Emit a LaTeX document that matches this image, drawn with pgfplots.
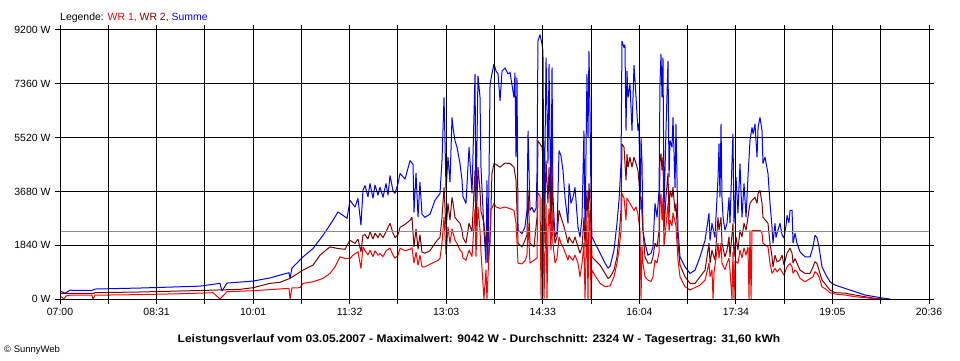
\documentclass[border=0pt]{standalone}
\usepackage{fontspec}
\setmainfont{Liberation Sans}
\usepackage{pgfplots}
\usepackage{pgfplotstable}
\pgfplotsset{compat=1.18}
\definecolor{wrone}{RGB}{255,0,0}
\definecolor{wrtwo}{RGB}{128,0,0}
\definecolor{summe}{RGB}{0,0,255}
\definecolor{avg}{RGB}{140,140,140}

% time in minutes since midnight, power in W
\pgfplotstableread{
t w
420.0 273
424.7 200
429.4 300
450.0 290
452.9 341
495.1 375
551.5 440
570.2 535
572.1 272
576.8 545
601.2 613
617.2 720
626.6 818
635.0 900
636.0 700
637.8 1056
648.2 1442
657.6 1727
667.0 2180
676.3 2691
681.0 2975
685.7 2862
689.5 2760
692.3 3373
697.0 3145
699.8 3441
702.6 2521
704.5 3714
706.4 3884
709.2 3500
711.1 3952
713.9 3441
715.8 3900
718.6 3550
720.5 3827
723.3 3475
726.1 3950
728.0 3550
729.9 4225
732.7 3700
734.6 3611
737.4 3952
739.3 4293
744.0 4100
748.7 4736
751.5 4600
752.4 2964
754.3 4300
756.2 2800
758.0 4000
759.9 2900
762.7 2794
767.4 2900
772.1 3373
774.0 3475
776.8 3600
778.7 4736
780.6 6893
782.5 3714
784.3 4849
786.2 4000
788.1 6211
789.0 5871
790.9 5417
792.8 5189
795.6 4633
797.5 4054
798.4 3500
801.2 3270
804.1 5189
806.9 3611
809.7 7688
810.6 3145
812.5 7632
814.4 6893
815.3 4500
818.1 2351
820.0 1227
820.9 4054
821.9 1227
823.8 7350
825.6 7700
827.5 8040
829.4 7800
831.3 7700
833.2 6780
835.1 7800
837.9 7900
840.7 7700
842.6 7745
846.3 6893
847.2 7745
848.2 4849
849.1 7575
850.1 2351
853.8 2238
856.6 2464
858.5 3032
859.5 5758
861.3 3032
863.2 3134
865.1 2964
867.0 3100
867.9 4293
868.8 8824
870.7 9042
872.6 8722
873.5 8483
874.5 2351
876.4 8255
878.2 4633
879.2 8030
881.0 2930
882.0 7914
882.9 3475
884.8 2124
886.7 2300
888.6 5076
890.4 4900
892.3 4395
894.2 3475
897.0 2589
898.0 3952
899.8 3270
901.7 3475
903.6 3816
906.4 2453
908.3 2112
910.2 2794
912.0 5758
913.0 2124
914.8 7688
915.8 5530
916.7 8483
917.7 6337
918.6 3475
919.5 2124
922.4 1908
927.1 1567
931.8 1227
934.6 1056
936.5 1120
940.2 1670
943.0 2589
944.9 3373
946.8 4633
947.7 8824
949.6 8596
950.5 8700
951.5 5758
952.4 7800
953.4 6893
955.2 7350
957.1 5758
959.0 8000
960.9 6893
962.7 5758
963.7 6000
964.6 3032
965.6 5500
966.5 4633
967.4 2351
969.3 1908
972.1 1499
975.0 1567
976.8 1782
978.7 3270
980.6 2794
982.5 3714
983.4 7348
984.3 8380
985.3 6893
986.2 8255
987.2 3032
989.0 5758
990.9 8143
991.9 4167
992.8 5417
994.7 5189
995.6 6211
997.5 3800
998.4 5985
1000.3 2351
1002.2 1442
1006.9 1101
1011.6 875
1016.3 988
1021.0 1442
1025.7 2010
1029.4 2930
1030.4 2000
1032.2 2589
1035.0 2100
1037.9 4167
1038.8 5315
1039.7 3475
1040.7 5985
1041.6 3475
1042.6 2794
1044.4 2351
1046.3 2589
1048.2 3475
1049.1 2589
1051.9 5644
1052.9 2589
1054.8 4167
1056.6 2930
1058.5 4633
1060.4 2794
1062.3 3952
1064.2 2794
1066.0 4167
1067.9 5417
1069.8 5871
1070.8 5644
1072.6 5985
1074.5 4849
1075.5 5871
1077.3 6211
1079.2 5758
1080.1 4633
1082.0 4849
1084.8 4293
1086.7 3270
1088.6 2453
1089.5 1908
1091.4 2589
1092.3 2100
1093.3 2248
1096.1 2589
1098.0 2200
1099.8 2078
1101.7 2500
1102.7 2862
1104.5 2600
1105.5 3032
1107.4 3032
1108.3 1908
1110.2 2248
1112.0 1908
1114.9 1612
1119.6 1442
1124.3 1442
1127.1 1782
1128.9 2180
1130.8 2100
1132.7 1782
1135.5 1101
1139.3 818
1143.0 590
1147.7 477
1157.1 364
1166.5 250
1175.9 136
1185.3 78
1194.7 20
1199.4 0
}\summetab

\pgfplotstableread{
t w
420.0 190
451.0 190
452.9 216
495.1 240
551.5 290
589.0 330
601.2 386
617.2 535
626.6 570
636.0 705
648.2 988
657.6 1158
664.1 1499
673.5 1782
681.0 1727
687.6 1700
692.3 2010
697.0 1900
699.8 2050
702.6 1612
704.5 2180
706.4 2200
709.2 2050
711.1 2300
713.9 2050
715.8 2250
718.6 2100
720.5 2238
723.3 2100
726.1 2300
729.9 2589
732.7 2250
734.6 2100
737.4 2200
739.3 2453
744.0 2550
748.7 2691
750.5 2794
752.4 1782
754.3 2400
756.2 1700
758.0 2200
759.9 1600
762.7 1567
767.4 1650
772.1 1908
774.0 2000
776.8 2112
778.7 2794
780.6 3816
782.5 2351
784.3 3270
786.2 2700
788.1 3475
789.0 3300
790.9 2794
792.8 2700
795.6 2589
797.5 2351
798.4 2100
801.2 1908
804.1 2589
806.9 2300
809.7 4395
810.6 2200
812.5 4509
814.4 3714
815.3 3000
818.1 2589
820.0 1782
820.9 2400
821.9 1227
823.8 1908
825.6 4293
827.5 4633
829.4 4600
833.2 4509
837.9 4650
842.6 4633
846.3 4509
848.2 4054
850.1 1908
853.8 1782
856.6 2000
858.5 2200
859.5 3714
861.3 1908
865.1 1782
867.9 2794
868.8 5417
870.7 5304
872.6 5190
873.5 4849
874.5 1908
876.4 4736
878.2 3270
879.2 4509
881.0 2351
882.0 4633
882.9 2794
884.8 1908
886.7 2124
888.6 3032
890.4 2794
892.3 2589
894.2 2351
897.0 1908
898.0 2124
899.8 2000
901.7 1908
903.6 2124
906.4 1782
908.3 1567
910.2 1782
912.0 2794
913.0 1782
914.8 3714
915.8 2794
916.7 3952
917.7 3270
918.6 2351
919.5 1442
922.4 1329
927.1 1158
931.8 875
934.6 705
936.5 750
940.2 988
943.0 1442
944.9 2124
946.8 3032
947.7 5304
949.6 5190
951.5 4054
952.4 4950
953.4 4509
955.2 4849
957.1 4509
959.0 4849
960.9 4633
962.7 4400
963.7 4000
964.6 3373
965.6 3500
967.4 2351
969.3 1442
972.1 1227
975.0 1227
976.8 1442
978.7 1908
980.6 1782
982.5 2351
983.4 4736
984.3 4974
985.3 4400
986.2 4849
987.2 2351
989.0 3475
990.9 4293
991.9 2794
992.8 3714
994.7 3475
995.6 3827
997.5 3000
998.4 3270
1000.3 1908
1002.2 1158
1006.9 760
1011.6 535
1016.3 535
1021.0 760
1025.7 988
1029.4 1908
1030.4 1227
1032.2 1670
1035.0 1329
1037.9 2794
1038.8 2351
1040.7 2794
1041.6 1908
1044.4 1442
1046.3 1670
1048.2 2124
1049.1 1442
1051.9 2589
1052.9 1442
1054.8 2124
1056.6 1670
1058.5 2351
1060.4 2124
1062.3 2589
1064.2 2351
1066.0 2794
1067.9 3270
1069.8 3373
1072.6 3475
1074.5 3270
1075.5 3611
1077.3 3714
1079.2 3270
1080.1 2794
1084.8 2589
1086.7 1908
1088.6 1442
1089.5 1101
1091.4 1499
1093.3 1272
1096.1 1329
1098.0 1499
1099.8 1158
1102.7 1567
1105.5 1738
1107.4 1567
1108.3 1227
1110.2 1386
1112.0 1227
1114.9 988
1119.6 875
1124.3 875
1127.1 1101
1128.9 1272
1130.8 1215
1132.7 988
1135.5 647
1139.3 477
1143.0 307
1147.7 216
1157.1 200
1166.5 136
1175.9 78
1185.3 23
1194.7 0
}\wrtwotab

\pgfplotstableread{
t w
420.0 102
423.8 0
425.6 102
429.4 130
450.0 130
451.0 0
452.9 130
495.1 150
532.7 180
563.7 216
570.2 0
576.8 250
601.2 284
635.0 364
636.0 0
637.8 380
645.4 386
648.2 535
657.6 590
667.0 705
673.5 875
678.2 1101
682.9 1442
687.6 1386
692.3 1386
695.1 1500
699.8 1612
702.6 1045
704.5 1782
706.4 1650
709.2 1500
711.1 1670
713.9 1450
715.8 1650
718.6 1500
720.5 1556
723.3 1450
726.1 1650
729.9 1738
732.7 1500
734.6 1397
737.4 1500
739.3 1738
744.0 1650
748.7 1700
750.5 1750
752.4 1227
754.3 1600
756.2 1150
758.0 1500
759.9 1100
762.7 1101
772.1 1272
774.0 1300
776.8 1386
778.7 1908
780.6 2805
782.5 1500
784.3 2464
786.2 1900
788.1 2400
790.9 2010
792.8 1900
795.6 1670
797.5 1600
798.4 1400
801.2 1329
804.1 1670
806.9 1450
809.7 3090
810.6 1450
812.5 3145
814.4 2351
815.3 1600
818.1 0
820.0 1000
820.9 0
824.7 3032
827.5 3270
829.4 3145
833.2 3100
837.9 3145
842.6 3090
846.3 3032
848.2 2589
850.1 1227
853.8 1200
856.6 1300
858.5 1500
859.5 2589
861.3 1227
867.9 1400
868.8 3611
870.7 3543
871.7 0
872.6 3450
873.5 3300
874.5 0
876.4 3250
877.3 0
878.2 2300
879.2 3100
881.0 1670
882.0 3000
882.9 1900
884.8 1227
886.7 1400
888.6 2124
890.4 1900
892.3 1782
894.2 1600
897.0 1329
898.0 1500
899.8 1400
901.7 1329
903.6 1500
906.4 1227
908.3 760
910.2 1227
912.0 1908
913.0 0
914.8 2805
915.8 0
916.7 3032
917.7 2600
918.6 0
919.5 988
922.4 800
927.1 535
931.8 420
936.5 450
940.2 760
943.0 1227
944.9 1670
946.8 2351
947.7 3611
949.6 3450
951.5 2700
952.4 3450
955.2 3270
957.1 3150
959.0 3032
960.9 3150
962.7 2900
964.6 2351
965.6 0
966.5 1800
967.4 1227
969.3 760
972.1 647
975.0 600
976.8 760
978.7 1329
980.6 1227
982.5 1600
983.4 3270
984.3 3600
985.3 2700
986.2 3450
987.2 1800
989.0 2500
990.9 3270
991.9 2300
992.8 2700
994.7 2500
995.6 2950
998.4 2500
1000.3 1329
1002.2 760
1006.9 420
1011.6 307
1021.0 477
1025.7 647
1029.4 1227
1030.4 760
1032.2 1000
1033.2 0
1034.1 900
1037.9 1908
1038.8 1400
1040.7 1908
1041.6 1227
1044.4 1000
1046.3 1227
1048.2 1400
1049.1 1000
1051.0 0
1051.9 1600
1052.9 0
1053.8 1300
1056.6 1227
1058.5 1670
1060.4 1400
1062.3 1750
1064.2 1500
1066.0 1782
1067.0 0
1067.9 2351
1068.9 0
1069.8 2351
1075.5 2351
1077.3 2351
1079.2 2250
1080.1 1908
1084.8 1782
1086.7 1227
1088.6 875
1091.4 1045
1093.3 930
1096.1 1045
1098.0 930
1099.8 818
1102.7 1101
1105.5 1215
1107.4 1101
1108.3 875
1110.2 988
1112.0 930
1114.9 705
1119.6 590
1127.1 760
1128.9 931
1130.8 875
1132.7 760
1135.5 420
1139.3 330
1143.0 216
1147.7 170
1157.1 136
1166.5 78
1175.9 45
1185.3 10
1190.0 0
}\wronetab

\begin{document}
\begin{tikzpicture}[x=1bp,y=1bp]
\path[use as bounding box] (0,0) rectangle (960,360);
\begin{axis}[
  at={(60bp,61bp)}, anchor=south west,
  scale only axis, width=869bp, height=269bp,
  xmin=420, xmax=1236, ymin=0, ymax=9200,
  axis on top,
  axis line style={black, line width=1bp},
  grid=major,
  major grid style={black, line width=1bp},
  tick style={black, line width=1bp},
  tick align=outside,
  major tick length=5bp,
  xtick={420,465.333,510.667,556,601.333,646.667,692,737.333,782.667,828,873.333,918.667,964,1009.333,1054.667,1100,1145.333,1190.667,1236},
  xticklabels={07:00,,08:31,,10:01,,11:32,,13:03,,14:33,,16:04,,17:34,,19:05,,20:36},
  ytick={0,1840,3680,5520,7360,9200},
  yticklabels={0 W,1840 W,3680 W,5520 W,7360 W,9200 W},
  tick label style={font=\fontsize{10.5}{12}\selectfont},
  xticklabel style={yshift=-1bp},
  yticklabel style={xshift=-1bp},
  every axis plot/.append style={sharp plot, line width=1bp, line join=miter, miter limit=2},
  clip=true,
]
\addplot[summe] table[x=t,y=w] {\summetab};
\addplot[wrtwo] table[x=t,y=w] {\wrtwotab};
\addplot[wrone] table[x=t,y=w] {\wronetab};
\addplot[avg] coordinates {(420,2324) (1236,2324)};
\end{axis}
\node[anchor=base west, inner sep=0pt, font=\fontsize{10.5}{12}\selectfont] at (60,340)
  {Legende: \textcolor{wrone}{WR 1,} \textcolor{wrtwo}{WR 2,} \textcolor{summe}{Summe}};
\node[anchor=base, inner sep=0pt, font=\bfseries\fontsize{11}{13}\selectfont] at (479,18)
  {\scalebox{1.1}[1]{Leistungsverlauf vom 03.05.2007 - Maximalwert: 9042 W - Durchschnitt: 2324 W - Tagesertrag: 31,60 kWh}};
\node[anchor=base west, inner sep=0pt, font=\fontsize{9.5}{11}\selectfont] at (4,8) {© SunnyWeb};
\end{tikzpicture}
\end{document}
